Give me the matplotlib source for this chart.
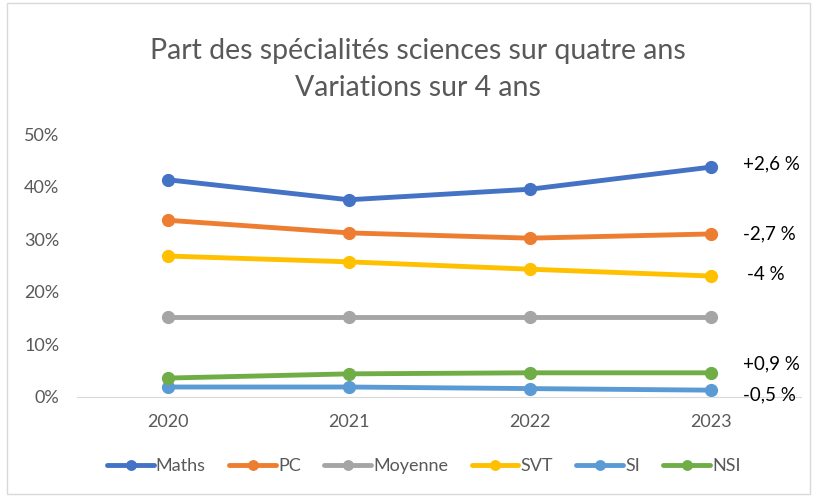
import matplotlib
matplotlib.use('agg')
import matplotlib.pyplot as plt
from matplotlib.patches import Rectangle
from matplotlib.ticker import FuncFormatter

years = ['2020', '2021', '2022', '2023']
series_names = ['Maths', 'PC', 'Moyenne', 'SVT', 'SI', 'NSI']
maths = [0.413, 0.375, 0.395, 0.437]
pc = [0.336, 0.312, 0.302, 0.310]
moyenne = [0.152, 0.152, 0.152, 0.152]
svt = [0.268, 0.257, 0.243, 0.230]
si = [0.019, 0.019, 0.016, 0.013]
nsi = [0.036, 0.044, 0.046, 0.046]
colors = ['#4472C4', '#ED7D31', '#A5A5A5', '#FFC000', '#5B9BD5', '#70AD47']

variation_labels = ['+2,6 %', '-2,7 %', '-4 %', '+0,9 %', '-0,5 %']
variation_y = [0.443, 0.311, 0.233, 0.063, 0.004]
variation_x = [3.18, 3.18, 3.20, 3.18, 3.18]

plt.rcParams['font.family'] = ['Lato', 'DejaVu Sans']

fig = plt.figure(figsize=(8.15, 4.96), dpi=100)
fig.patches.append(Rectangle((0.009, 0.004), 0.985, 0.99, transform=fig.transFigure,
                             fill=False, edgecolor='#D9D9D9', linewidth=1))
ax = fig.add_axes([0.095, 0.1996, 0.888, 0.5302])

x = list(range(len(years)))
all_series = [maths, pc, moyenne, svt, si, nsi]
for name, values, color in zip(series_names, all_series, colors):
    ax.plot(x, values, color=color, linewidth=3.5, marker='o', markersize=8.5,
            label=name, solid_capstyle='round')

ax.set_xlim(-0.5, len(years) - 0.5)
ax.set_ylim(0, 0.5)
ax.set_yticks([0, 0.1, 0.2, 0.3, 0.4, 0.5])
ax.yaxis.set_major_formatter(FuncFormatter(lambda v, p: f'{round(v * 100)}%'))
ax.set_xticks(x)
ax.set_xticklabels(years)
ax.tick_params(axis='both', length=0, colors='#595959', labelsize=13)
ax.tick_params(axis='x', pad=12)
ax.tick_params(axis='y', pad=13)
for side in ['top', 'right', 'left']:
    ax.spines[side].set_visible(False)
ax.spines['bottom'].set_color('#D9D9D9')
ax.set_facecolor('none')

for label, xv, yv in zip(variation_labels, variation_x, variation_y):
    ax.text(xv, yv, label, fontsize=13.5, color='black', va='center', ha='left')

fig.text(0.513, 0.898, 'Part des spécialités sciences sur quatre ans', ha='center', va='center',
         fontsize=20.5, color='#595959')
fig.text(0.513, 0.822, 'Variations sur 4 ans', ha='center', va='center',
         fontsize=20.5, color='#595959')

fig.legend(loc='center', bbox_to_anchor=(0.52, 0.06), ncol=6, frameon=False,
           fontsize=13, labelcolor='#595959', handlelength=2.6, handletextpad=0.1,
           columnspacing=1.3, markerscale=0.8)

fig.savefig('out.png', dpi=100)
